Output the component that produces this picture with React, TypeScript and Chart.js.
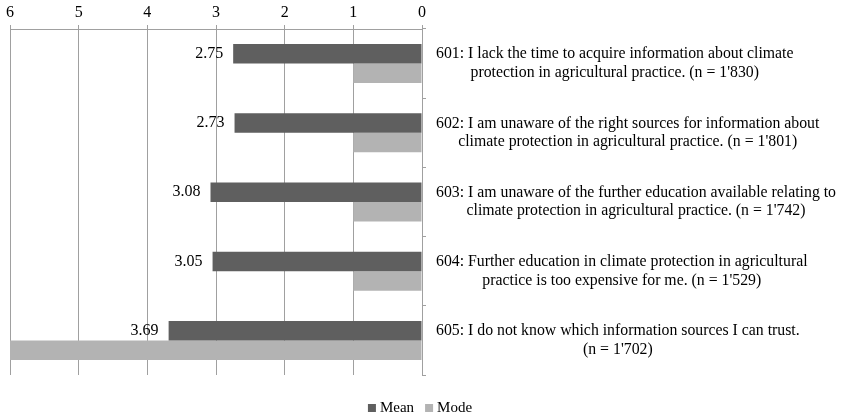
import React, { useEffect, useRef } from "react";
import { Chart, registerables } from "chart.js";

Chart.register(...registerables);

const categories: string[][] = [
  ["601: I lack the time to acquire information about climate", "protection in agricultural practice. (n = 1'830)"],
  ["602: I am unaware of the right sources for information about", "climate protection in agricultural practice. (n = 1'801)"],
  ["603: I am unaware of the further education available relating to", "climate protection in agricultural practice. (n = 1'742)"],
  ["604: Further education in climate protection in agricultural", "practice is too expensive for me. (n = 1'529)"],
  ["605: I do not know which information sources I can trust.", "(n = 1'702)"],
];
const meanValues: number[] = [2.75, 2.73, 3.08, 3.05, 3.69];
const modeValues: number[] = [1, 1, 1, 1, 6];
const seriesNames: string[] = ["Mean", "Mode"];
const seriesColors: string[] = ["#5f5f5f", "#b3b3b3"];
const axisMin = 0;
const axisMax = 6;

const FONT = "'Liberation Serif', 'Times New Roman', serif";
const GRID = "#a0a0a0";

const overlayPlugin = {
  id: "overlay",
  afterDraw(chart: any) {
    const ctx = chart.ctx;
    const yScale = chart.scales.y;
    ctx.save();
    ctx.fillStyle = "#000";
    // category labels on the right
    ctx.font = `15.8px ${FONT}`;
    ctx.textBaseline = "middle";
    ctx.textAlign = "center";
    const lineH = 18.5;
    categories.forEach((lines, i) => {
      const yc = yScale.getPixelForValue(i);
      const maxW = Math.max(...lines.map((l) => ctx.measureText(l).width));
      const xc = yScale.left + 14 + maxW / 2;
      const y0 = yc - ((lines.length - 1) * lineH) / 2;
      lines.forEach((l, k) => ctx.fillText(l, xc, y0 + k * lineH));
    });
    // data labels on mean bars
    ctx.font = `16px ${FONT}`;
    const meta = chart.getDatasetMeta(0);
    ctx.textAlign = "right";
    meta.data.forEach((bar: any, i: number) => {
      ctx.fillText(meanValues[i].toFixed(2), bar.x - 10, bar.y);
    });
    // legend
    ctx.font = `15px ${FONT}`;
    const box = 8;
    const gap = 4;
    const spacing = 11;
    const widths = seriesNames.map((n) => box + gap + ctx.measureText(n).width);
    const total = widths.reduce((a, b) => a + b, 0) + spacing * (seriesNames.length - 1);
    let x = chart.width / 2 - 3 - total / 2;
    const ly = 408;
    ctx.textAlign = "left";
    seriesNames.forEach((n, i) => {
      ctx.fillStyle = seriesColors[i];
      ctx.fillRect(x, ly - box / 2, box, box);
      ctx.fillStyle = "#000";
      ctx.fillText(n, x + box + gap, ly);
      x += widths[i] + spacing;
    });
    ctx.restore();
  },
};

export default function App() {
  const ref = useRef<HTMLCanvasElement>(null);
  useEffect(() => {
    if (!ref.current) return;
    const chart = new Chart(ref.current, {
      type: "bar",
      data: {
        labels: categories.map((c) => c.join(" ")),
        datasets: [
          {
            label: seriesNames[0],
            data: meanValues,
            backgroundColor: seriesColors[0],
            categoryPercentage: 0.564,
            barPercentage: 1,
          },
          {
            label: seriesNames[1],
            data: modeValues,
            backgroundColor: seriesColors[1],
            categoryPercentage: 0.564,
            barPercentage: 1,
          },
        ],
      },
      options: {
        indexAxis: "y",
        responsive: false,
        animation: false,
        layout: { padding: { left: 10, right: 0, top: 0, bottom: 42 } },
        plugins: {
          legend: { display: false },
          tooltip: { enabled: false },
        },
        scales: {
          x: {
            position: "top",
            reverse: true,
            min: axisMin,
            max: axisMax,
            ticks: {
              stepSize: 1,
              color: "#000",
              padding: 3,
              font: { family: FONT, size: 16 },
            },
            grid: { color: GRID, tickLength: 4, lineWidth: 1 },
            border: { color: GRID },
            afterFit: (s: any) => {
              s.height = 29;
            },
          },
          y: {
            position: "right",
            ticks: { display: false },
            grid: {
              drawOnChartArea: false,
              offset: true,
              tickLength: 4,
              color: GRID,
            },
            border: { color: GRID },
            afterFit: (s: any) => {
              s.width = 846 - 422;
            },
          },
        },
      },
      plugins: [overlayPlugin],
    } as any);
    return () => chart.destroy();
  }, []);
  return (
    <div style={{ position: "absolute", left: 0, top: 0, width: 846, height: 417 }}>
      <canvas ref={ref} width={846} height={417} style={{ display: "block" }} />
    </div>
  );
}
